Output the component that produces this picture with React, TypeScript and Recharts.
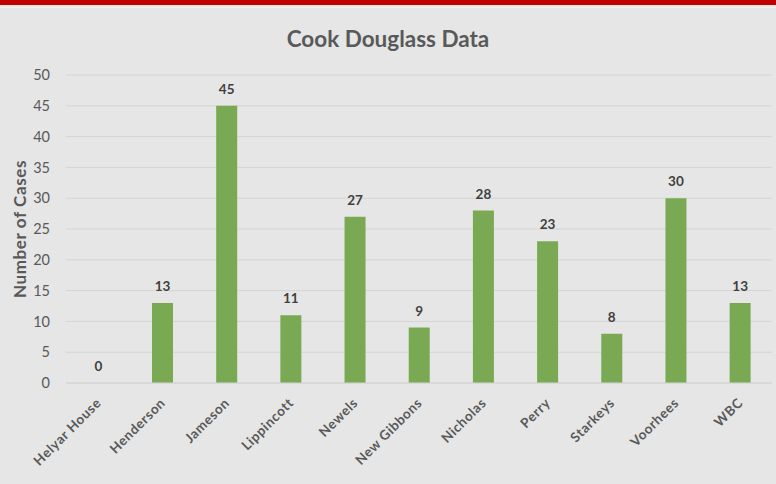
import React from "react";
import { BarChart, Bar, XAxis, YAxis, CartesianGrid, LabelList } from "recharts";

const categories = ["Helyar House", "Henderson", "Jameson", "Lippincott", "Newels", "New Gibbons", "Nicholas", "Perry", "Starkeys", "Voorhees", "WBC"];
const cases = [0, 13, 45, 11, 27, 9, 28, 23, 8, 30, 13];
const yTicks = [0, 5, 10, 15, 20, 25, 30, 35, 40, 45, 50];

const data = categories.map((name, i) => ({ name, cases: cases[i] }));

const FONT = "Lato, 'Open Sans', sans-serif";

const XTick = (props: any) => {
  const { x, y, payload } = props;
  return (
    <g transform={`translate(${x + 1},${y + 10})`}>
      <text transform="rotate(-45)" textAnchor="end" fontFamily={FONT} fontSize={13.5} letterSpacing={0.6} fontWeight={700} fill="#595959" dy={4}>
        {payload.value}
      </text>
    </g>
  );
};

export default function App() {
  return (
    <div style={{ position: "absolute", left: 0, top: 0, width: 776, height: 484, background: "#e6e6e6", overflow: "hidden" }}>
      <div style={{ position: "absolute", left: 0, top: 0, width: 776, height: 5, background: "#c00000" }} />
      <div style={{ position: "absolute", left: 0, top: 7, width: 776, height: 1, background: "#f2f2f2" }} />
      <div style={{ position: "absolute", left: 0, top: 25, width: 776, textAlign: "center", fontFamily: FONT, fontWeight: 700, fontSize: 22.5, color: "#595959" }}>
        Cook Douglass Data
      </div>
      <div style={{ position: "absolute", left: 0, top: 0 }}>
        <BarChart width={776} height={484} data={data} margin={{ top: 75, right: 4, bottom: 0, left: 0 }} barCategoryGap="34%">
          <CartesianGrid vertical={false} stroke="#d4d4d4" strokeWidth={1} />
          <XAxis dataKey="name" interval={0} tick={<XTick />} tickLine={false} axisLine={{ stroke: "#d4d4d4" }} height={101} />
          <YAxis
            domain={[0, 50]}
            ticks={yTicks}
            interval={0}
            width={66}
            tickLine={false}
            axisLine={false}
            tickSize={0}
            tickMargin={16}
            tick={{ fontFamily: FONT, fontSize: 14.5, fill: "#595959" }}
            label={{ value: "Number of Cases", angle: -90, position: "insideLeft", offset: 20, style: { fontFamily: FONT, fontSize: 17, letterSpacing: 0.6, fontWeight: 700, fill: "#595959", textAnchor: "middle" } }}
          />
          <Bar dataKey="cases" fill="#79aa53" isAnimationActive={false} minPointSize={0.01}>
            <LabelList dataKey="cases" position="top" offset={12} style={{ fontFamily: FONT, fontSize: 13.5, fontWeight: 700, fill: "#404040" }} />
          </Bar>
        </BarChart>
      </div>
    </div>
  );
}
